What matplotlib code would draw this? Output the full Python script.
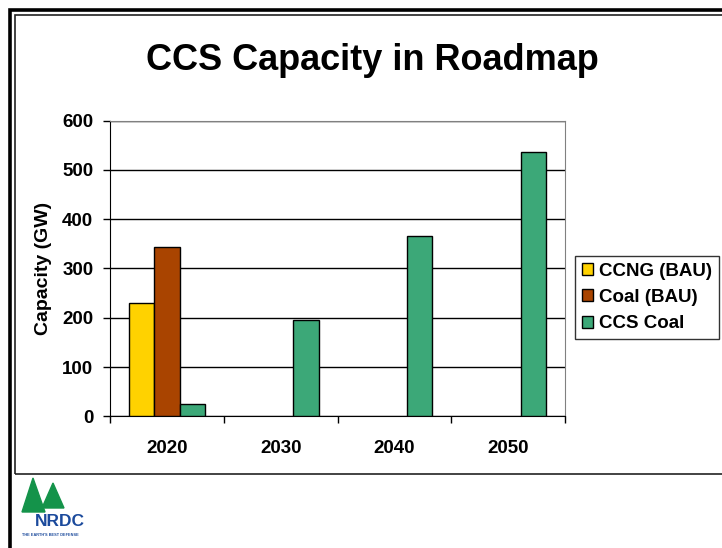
import numpy as np
import matplotlib
matplotlib.use("Agg")
from matplotlib import pyplot as plt
from matplotlib.patches import Rectangle, Polygon

plt.rcParams['font.family'] = ['Liberation Sans', 'DejaVu Sans']
plt.rcParams['font.weight'] = 'bold'

years = ['2020', '2030', '2040', '2050']
ccng_bau = [229, 0, 0, 0]
coal_bau = [343, 0, 0, 0]
ccs_coal = [24, 195, 365, 537]
series_names = ['CCNG (BAU)', 'Coal (BAU)', 'CCS Coal']
colors = ['#FFD200', '#A94400', '#3CA878']

W, H = 722, 548
fig = plt.figure(figsize=(W/100, H/100), dpi=100)

def fx(px):
    return px / W

def fy(py):
    return 1 - py / H

# slide frame: heavy outer line and thin inner box round the chart
fig.add_artist(Rectangle((fx(9.5), -0.05), 1.2, fy(10) + 0.05, transform=fig.transFigure,
                         fill=False, lw=2.6, ec='black'))
fig.add_artist(Rectangle((fx(14.5), fy(474)), 1.2, (474 - 14.5)/H, transform=fig.transFigure,
                         fill=False, lw=1.2, ec='#222222'))

fig.text(fx(372), fy(60), 'CCS Capacity in Roadmap', ha='center', va='center',
         fontsize=26, fontweight='bold')

ax = fig.add_axes([fx(110), fy(416.3), (565.3 - 110)/W, (416.3 - 120.5)/H])

x = np.arange(len(years))
w = 0.222
for i, (vals, name, c) in enumerate(zip([ccng_bau, coal_bau, ccs_coal], series_names, colors)):
    v = np.array(vals, dtype=float)
    keep = v > 0
    ax.bar(x[keep] + (i - 1)*w, v[keep], width=w, color=c, edgecolor='black', lw=1,
           label=name, zorder=3)

ax.set_xlim(-0.5, 3.5)
ax.set_ylim(0, 600)
ax.set_yticks(np.arange(0, 601, 100))
ax.set_xticks(x)
ax.set_xticklabels(years)
ax.set_xticks(np.arange(-0.5, 4, 1), minor=True)
ax.tick_params(axis='x', which='major', length=0, pad=17, labelsize=13.5)
ax.tick_params(axis='x', which='minor', length=5, width=1, direction='out')
ax.tick_params(axis='y', length=5, width=1, direction='out', labelsize=13.5, pad=7)
for lab in ax.get_xticklabels() + ax.get_yticklabels():
    lab.set_fontweight('bold')

ax.yaxis.grid(True, color='black', lw=1, zorder=0)
ax.set_axisbelow(True)
ax.spines['left'].set_color('black')
ax.spines['bottom'].set_color('black')
ax.spines['top'].set_color('#808080')
ax.spines['right'].set_color('#808080')

ax.set_ylabel('Capacity (GW)', fontsize=14, fontweight='bold', labelpad=7)

leg = ax.legend(loc='upper left', bbox_to_anchor=(fx(575), fy(256)), bbox_transform=fig.transFigure,
                frameon=True, fancybox=False, edgecolor='black', fontsize=13.5,
                handlelength=0.6, handleheight=0.6, handletextpad=0.35, labelspacing=0.5,
                borderpad=0.35, borderaxespad=0)
leg.get_frame().set_linewidth(1)
for t in leg.get_texts():
    t.set_fontweight('bold')

# NRDC logo: two green trees, the name and the tagline
fig.add_artist(Polygon([[fx(22), fy(512)], [fx(33), fy(478)], [fx(45), fy(512)]],
                       closed=True, transform=fig.transFigure, color='#14934A'))
fig.add_artist(Polygon([[fx(42), fy(508)], [fx(53), fy(483)], [fx(64), fy(508)]],
                       closed=True, transform=fig.transFigure, color='#14934A'))
fig.text(fx(35), fy(521), 'NRDC', fontsize=12.5, fontweight='bold', color='#1B4A9C',
         va='center', ha='left')
fig.text(fx(22), fy(535), "THE EARTH'S BEST DEFENSE", fontsize=2.8, fontweight='bold',
         color='#1B4A9C', va='center', ha='left')

fig.savefig('out.png', dpi=100)
